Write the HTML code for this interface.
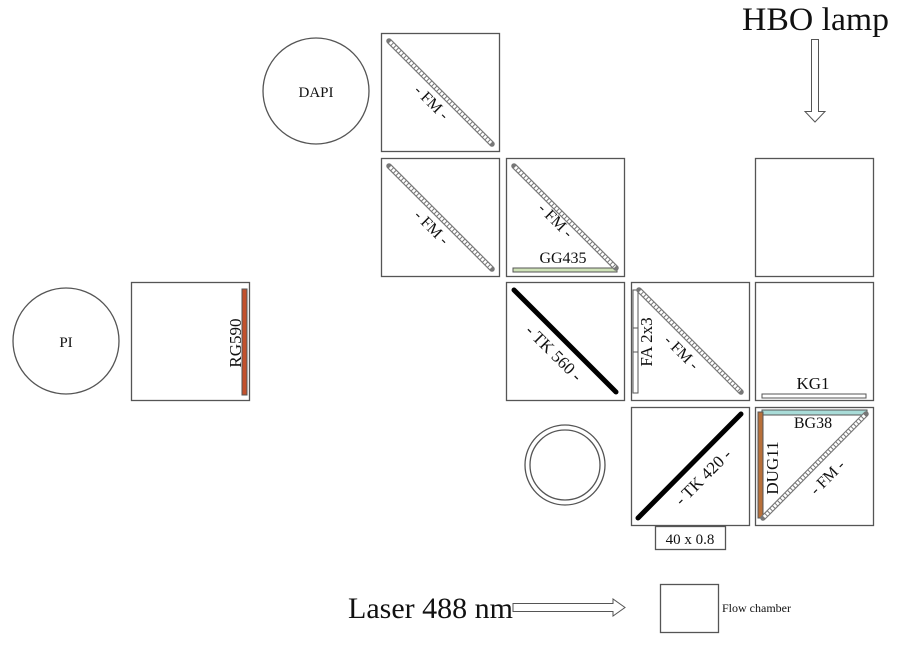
<!DOCTYPE html>
<html><head><meta charset="utf-8"><style>
html,body{margin:0;padding:0;background:#fff;}
svg{display:block;}
text{font-family:"Liberation Serif",serif;fill:#111;}
</style></head><body>
<svg width="900" height="645" viewBox="0 0 900 645" xmlns="http://www.w3.org/2000/svg">
<g fill="none" stroke="#555" stroke-width="1.3">
<rect x="381.5" y="33.5" width="118" height="118"/>
<rect x="381.5" y="158.5" width="118" height="118"/>
<rect x="506.5" y="158.5" width="118" height="118"/>
<rect x="755.5" y="158.5" width="118" height="118"/>
<rect x="131.5" y="282.5" width="118" height="118"/>
<rect x="506.5" y="282.5" width="118" height="118"/>
<rect x="631.5" y="282.5" width="118" height="118"/>
<rect x="755.5" y="282.5" width="118" height="118"/>
<rect x="631.5" y="407.5" width="118" height="118"/>
<rect x="755.5" y="407.5" width="118" height="118"/>
<rect x="655.5" y="526.5" width="70" height="23"/>
<rect x="660.5" y="584.5" width="58" height="48"/>
<circle cx="316" cy="91" r="53"/>
<circle cx="66" cy="341" r="53"/>
<circle cx="565" cy="465" r="40"/>
<circle cx="565" cy="465" r="35"/>
</g>
<rect x="513" y="268" width="104" height="4" fill="#cfe3b8" stroke="#555" stroke-width="1"/>
<rect x="242" y="289" width="5" height="106" fill="#c2502c" stroke="#555" stroke-width="1"/>
<rect x="633" y="290" width="5" height="103" fill="#fff" stroke="#555" stroke-width="1"/>
<line x1="633" y1="328" x2="638" y2="328" stroke="#555"/>
<line x1="633" y1="352" x2="638" y2="352" stroke="#555"/>
<rect x="762" y="394" width="104" height="4" fill="#fff" stroke="#555" stroke-width="1"/>
<rect x="762" y="410" width="105" height="5" fill="#a9dcd8" stroke="#555" stroke-width="1"/>
<rect x="758" y="412" width="5" height="106" fill="#b8703a" stroke="#555" stroke-width="1"/>
<g stroke-linecap="round">
<g stroke="#777" stroke-width="5.5">
<line x1="389" y1="41" x2="492" y2="144"/>
<line x1="389" y1="166" x2="492" y2="269"/>
<line x1="514" y1="166" x2="616" y2="268"/>
<line x1="639" y1="290" x2="741" y2="392"/>
<line x1="763" y1="518" x2="866" y2="414"/>
</g>
<g stroke="#fff" stroke-width="3.2" stroke-dasharray="2.6 1" stroke-linecap="butt">
<line x1="390" y1="42" x2="491" y2="143"/>
<line x1="390" y1="167" x2="491" y2="268"/>
<line x1="515" y1="167" x2="615" y2="267"/>
<line x1="640" y1="291" x2="740" y2="391"/>
<line x1="764" y1="517" x2="865" y2="415"/>
</g>
<g stroke="#000" stroke-width="5">
<line x1="514" y1="290" x2="616" y2="392"/>
<line x1="638" y1="518" x2="741" y2="414"/>
</g>
</g>
<g font-size="16" text-anchor="middle">
<text x="316" y="97" font-size="15">DAPI</text>
<text x="66" y="347" font-size="15">PI</text>
<text transform="translate(428,106) rotate(45)">- FM -</text>
<text transform="translate(428,231) rotate(45)">- FM -</text>
<text transform="translate(552,224) rotate(45)">- FM -</text>
<text x="563" y="263">GG435</text>
<text transform="translate(550,357) rotate(45)" font-size="17">- TK 560 -</text>
<text transform="translate(652,342) rotate(-90)" font-size="17">FA 2x3</text>
<text transform="translate(678,356) rotate(45)">- FM -</text>
<text x="813" y="389" font-size="17">KG1</text>
<text transform="translate(241,343) rotate(-90)" font-size="17">RG590</text>
<text transform="translate(707,481) rotate(-45)" font-size="17">- TK 420 -</text>
<text x="813" y="428">BG38</text>
<text transform="translate(778,468) rotate(-90)" font-size="17">DUG11</text>
<text transform="translate(831,481) rotate(-45)">- FM -</text>
<text x="690" y="544" font-size="15">40 x 0.8</text>
</g>
<text x="742" y="30" font-size="33" textLength="147" lengthAdjust="spacingAndGlyphs">HBO lamp</text>
<text x="348" y="618" font-size="30">Laser 488 nm</text>
<text x="722" y="612" font-size="12">Flow chamber</text>
<path d="M811.5 39.5 H818.5 V111.5 H825 L815 122 L805 111.5 H811.5 Z" fill="#fff" stroke="#555" stroke-width="1"/>
<path d="M513 603.5 V611.5 H613 V616 L625 607.5 L613 599 V603.5 Z" fill="#fff" stroke="#555" stroke-width="1"/>
</svg>
</body></html>
